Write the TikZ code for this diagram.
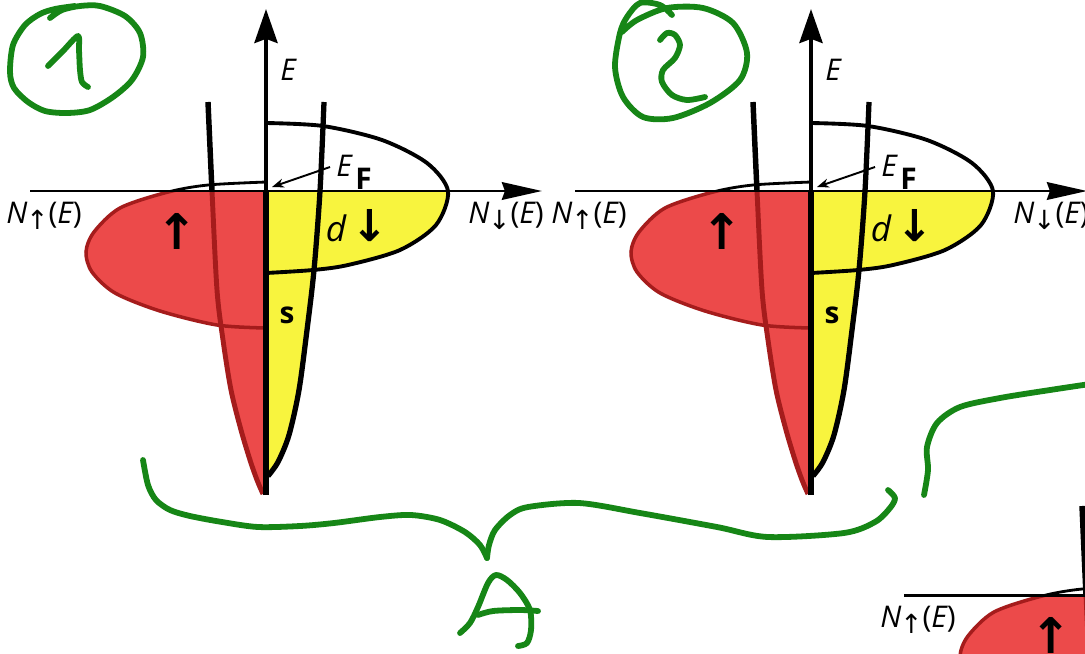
\documentclass[tikz,border=0pt]{standalone}
\usepackage{fontspec}
\setmainfont{Open Sans}
\newfontfamily\arrowfont{DejaVu Sans}
\usetikzlibrary{arrows.meta}
\definecolor{dosred}{RGB}{236,74,74}
\definecolor{dosdark}{RGB}{165,28,28}
\definecolor{dosyellow}{RGB}{248,244,62}
\definecolor{pen}{RGB}{22,134,22}
\tikzset{
  lab/.style={inner sep=0pt, font=\fontsize{17}{20}\selectfont},
  penline/.style={draw=pen, line width=3.3pt, line cap=round, line join=round},
}
\newcommand\dospanel[3]{%
\begin{scope}[shift={(#2,#3)}]
  % red fills (spin up)
  \begin{scope}
    \clip (0,191) rectangle (266,520);
    \fill[dosred] plot[smooth] coordinates {(266,182) (208,185) (168,192) (120,208) (94,232) (86,252) (92,272) (115,293) (160,311) (217,325) (266,328)} -- cycle;
    \fill[dosred] (266,102) -- plot[smooth] coordinates {(208,102) (212,191) (217,290) (223,340) (231,390) (241,430) (250,460) (257,480) (263,494)} -- cycle;
    \draw[dosdark, line width=2pt] plot[smooth] coordinates {(266,182) (208,185) (168,192) (120,208) (94,232) (86,252) (92,272) (115,293) (160,311) (217,325) (266,328)};
    \draw[dosdark, line width=2.8pt] plot[smooth] coordinates {(208,102) (212,191) (217,290) (223,340) (231,390) (241,430) (250,460) (257,480) (263,494)};
  \end{scope}
  \begin{scope}
    \clip (0,0) rectangle (266,191);
    \draw[black, line width=1.6pt] plot[smooth] coordinates {(266,182) (208,185) (168,192) (120,208) (94,232) (86,252) (92,272) (115,293) (160,311) (217,325) (266,328)};
    \draw[black, line width=3.1pt] plot[smooth] coordinates {(208,102) (212,191) (217,290) (223,340) (231,390) (241,430) (250,460) (257,480) (263,494)};
  \end{scope}
  % yellow fills (spin down)
  \begin{scope}
    \clip (266,191) rectangle (600,520);
    \fill[dosyellow] plot[smooth] coordinates {(266,123) (323,126) (382,140) (427,163) (448,191) (436,225) (400,250) (348,265) (313,270) (266,273)} -- cycle;
    \fill[dosyellow] (266,102) -- plot[smooth] coordinates {(324,102) (320,191) (314,270) (307,330) (299,390) (289,435) (278,462) (268,476)} -- cycle;
  \end{scope}
  \begin{scope}
    \clip (266,0) rectangle (600,520);
    \draw[black, line width=2.2pt] plot[smooth] coordinates {(266,123) (323,126) (382,140) (427,163) (448,191) (436,225) (400,250) (348,265) (313,270) (266,273)};
    \draw[black, line width=3pt] plot[smooth] coordinates {(324,102) (320,191) (314,270) (307,330) (299,390) (289,435) (278,462) (268,476)};
  \end{scope}
  % axes
  \draw[black, line width=1.7pt, -{Stealth[length=22.8pt, width=10pt, inset=1.7pt]}] (30,191) -- (542,191);
  \draw[black, line width=3.4pt] (266,495) -- (266,191);
  \draw[black, line width=2.4pt, -{Stealth[length=19.3pt, width=13.1pt, inset=2.3pt]}] (266,191) -- (266,9);
  % labels
  \node[lab] (#1E) at (288,70) {\itshape E};
  \node[lab] (#1Nu) at (44,216) {\itshape N\kern-0.5pt{\arrowfont\fontsize{15}{15}\selectfont\raisebox{-0.45ex}{↑}}\upshape(\itshape E\upshape)};
  \node[lab] (#1Nd) at (506,216) {\itshape N\kern-0.5pt{\arrowfont\fontsize{15}{15}\selectfont\raisebox{-0.45ex}{↓}}\upshape(\itshape E\upshape)};
  \node[lab, font=\fontsize{17}{18}\selectfont, anchor=west] (#1EF) at (336,172) {\itshape E\kern2pt\raisebox{-0.8ex}{\upshape\bfseries F}};
  \coordinate (#1efpt) at (272,187);
  \draw[black, line width=1.1pt, -{Stealth[length=6.8pt, width=5.1pt]}] ([shift={(-6,-5)}]#1EF.west) -- (#1efpt);
  \node[lab, font=\fontsize{20}{20}\selectfont] (#1dd) at (357,226) {\itshape d\kern3pt{\arrowfont\bfseries\fontsize{25}{25}\selectfont ↓}};
  \node[lab] (#1up) at (177,231) {\arrowfont\bfseries\fontsize{28}{28}\selectfont ↑};
  \node[lab, font=\fontsize{17}{18}\selectfont\bfseries] (#1s) at (287,315) {s};
\end{scope}}
\begin{document}
\begin{tikzpicture}[x=0.02cm,y=-0.02cm]
\useasboundingbox (0,0) rectangle (1085,653);
\clip (0,0) rectangle (1085,653);
\fill[white] (0,0) rectangle (1085,653);
\dospanel{a}{0}{0}
\dospanel{b}{545}{0}
\dospanel{c}{874}{404}
% handwritten annotations
\draw[penline] plot[smooth] coordinates {(50,18) (62,10) (80,6) (100,6) (125,16) (140,33) (143,57) (132,80) (113,97) (90,110) (67,113) (45,111) (28,102) (14,88) (10,72) (13,45) (25,25) (40,14) (55,9) (75,6)};
\draw[penline] plot[smooth] coordinates {(48,66) (63,51) (78,36) (79,50) (80,70) (82,82) (88,87)};
\draw[penline] plot[smooth] coordinates {(672,15) (660,5) (640,3) (627,17) (620,33) (615,67) (623,97) (643,117) (673,118) (710,103) (740,80) (747,53) (733,23) (703,8) (667,8) (637,20) (622,32)};
\draw[penline] plot[smooth] coordinates {(660,40) (667,33) (675,35) (680,45) (675,58) (663,70) (662,82) (672,95) (687,100) (705,97)};
\coordinate (cusp) at (487,558);
\draw[penline] plot[smooth] coordinates {(143,460) (148,485) (156,500) (170,510) (190,516) (222,522) (258,527) (300,526) (334,523) (380,517) (411,515) (440,520) (465,532) (480,545) (487,558)};
\draw[penline] plot[smooth] coordinates {(487,558) (489,545) (495,530) (510,515) (528,507) (579,503) (640,513) (717,527) (768,537) (844,533) (875,522) (890,508) (895,498) (888,490)};
\draw[penline] plot[smooth] coordinates {(924,495) (928,470) (927,447) (937,423) (960,407) (1000,398) (1050,390) (1090,384)};
\draw[penline] plot[smooth] coordinates {(460,633) (470,623) (478,607) (488,583) (496,575) (507,580) (520,593) (530,610) (531,630) (527,643) (518,646)};
\draw[penline] plot[smooth] coordinates {(478,615) (493,611) (520,610) (538,611)};
\end{tikzpicture}
\end{document}
